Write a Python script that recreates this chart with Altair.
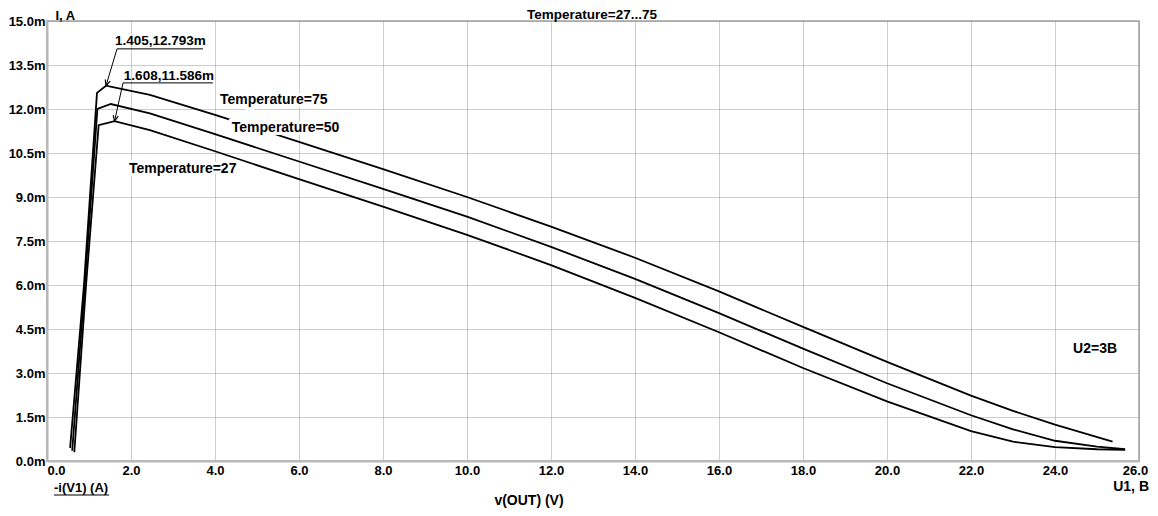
import altair as alt
import pandas as pd

# ---- series data (x in V, y in mA) ----
t75_x = [0.55, 0.88, 1.19, 1.405, 2.45, 4.0, 6.0, 8.0, 10.0, 12.0, 14.0, 16.0, 18.0, 20.0, 22.0, 23.0, 24.0, 25.37]
t75_y = [0.45, 6.0, 12.55, 12.793, 12.48, 11.80, 10.88, 9.95, 9.00, 7.99, 6.93, 5.78, 4.57, 3.38, 2.23, 1.71, 1.24, 0.66]

t50_x = [0.6, 0.9, 1.2, 1.52, 2.45, 4.0, 6.0, 8.0, 10.0, 12.0, 14.0, 16.0, 18.0, 20.0, 22.0, 23.0, 24.0, 25.0, 25.67]
t50_y = [0.35, 6.0, 12.0, 12.17, 11.85, 11.14, 10.21, 9.28, 8.33, 7.30, 6.21, 5.04, 3.83, 2.65, 1.56, 1.08, 0.69, 0.49, 0.40]

t27_x = [0.65, 0.93, 1.23, 1.608, 2.45, 4.0, 6.0, 8.0, 10.0, 12.0, 14.0, 16.0, 18.0, 20.0, 22.0, 23.0, 24.0, 25.0, 25.67]
t27_y = [0.3, 6.0, 11.45, 11.586, 11.28, 10.56, 9.61, 8.67, 7.71, 6.68, 5.56, 4.39, 3.17, 2.03, 1.02, 0.66, 0.47, 0.40, 0.38]

series_names = ["Temperature=75", "Temperature=50", "Temperature=27"]

# ---- curve labels ----
lbl_text = ["Temperature=75", "Temperature=50", "Temperature=27"]
lbl_x = [4.12, 4.40, 1.95]
lbl_y = [12.31, 11.34, 9.94]

# ---- point annotations ----
ann_text = ["1.405,12.793m", "1.608,11.586m"]
ann_tx = [1.62, 1.83]
ann_ty = [14.33, 13.14]
ann_ux0 = [1.667, 1.81]
ann_ux1 = [3.714, 3.95]
ann_uy = [14.05, 12.89]
ann_px = [1.405, 1.608]
ann_py = [12.793, 11.586]
ann_angle = [17.5, 12.2]

# ---- other texts ----
note_text = ["U2=3B"]
note_x = [24.43]
note_y = [3.82]

x_ticks = [0, 2, 4, 6, 8, 10, 12, 14, 16, 18, 20, 22, 24, 26]
y_ticks = [0, 1.5, 3, 4.5, 6, 7.5, 9, 10.5, 12, 13.5, 15]

rows = []
for name, xs_, ys_ in zip(series_names, [t75_x, t50_x, t27_x], [t75_y, t50_y, t27_y]):
    for i, (a, b) in enumerate(zip(xs_, ys_)):
        rows.append({"series": name, "order": i, "x": a, "y": b})
df = pd.DataFrame(rows)

lbl_df = pd.DataFrame({"text": lbl_text, "x": lbl_x, "y": lbl_y})
ann_df = pd.DataFrame({"text": ann_text, "tx": ann_tx, "ty": ann_ty, "ux0": ann_ux0,
                       "ux1": ann_ux1, "uy": ann_uy, "px": ann_px, "py": ann_py,
                       "angle": ann_angle})
note_df = pd.DataFrame({"text": note_text, "x": note_x, "y": note_y})

W, H = 1092, 440
FONT = "Liberation Sans"
FS = 14

xs = alt.Scale(domain=[0, 26], nice=False, zero=False)
ys = alt.Scale(domain=[0, 15], nice=False)

x_axis = alt.Axis(values=x_ticks, title=None, ticks=False, labelPadding=3,
                  labelExpr="format(datum.value, '.1f')",
                  labelAlign=alt.expr("datum.value == 0 ? 'left' : 'center'"),
                  labelOffset=alt.expr("datum.value == 26 ? -4 : 0"),
                  grid=True)
y_axis = alt.Axis(values=y_ticks, title="I, A", ticks=False, labelPadding=2,
                  labelExpr="format(datum.value, '.1f') + 'm'", grid=True,
                  titleAngle=0, titleX=8, titleY=-6, titleAlign="left",
                  titleBaseline="middle")

base_lines = alt.Chart(df).mark_line(color="black", strokeWidth=1.8, strokeJoin="miter").encode(
    x=alt.X("x:Q", scale=xs, axis=x_axis),
    y=alt.Y("y:Q", scale=ys, axis=y_axis),
    detail="series:N",
    order="order:Q",
)

halo = alt.Chart(lbl_df).mark_text(align="left", baseline="middle", font=FONT, fontSize=FS,
                                   fontWeight="bold", stroke="white", strokeWidth=6,
                                   fill="white").encode(
    x=alt.X("x:Q", scale=xs), y=alt.Y("y:Q", scale=ys), text="text:N")
labels = alt.Chart(lbl_df).mark_text(align="left", baseline="middle", font=FONT, fontSize=FS,
                                     fontWeight="bold", color="black").encode(
    x=alt.X("x:Q", scale=xs), y=alt.Y("y:Q", scale=ys), text="text:N")

ann_txt = alt.Chart(ann_df).mark_text(align="left", baseline="middle", font=FONT, fontSize=13.5,
                                      fontWeight="bold", color="black").encode(
    x=alt.X("tx:Q", scale=xs), y=alt.Y("ty:Q", scale=ys), text="text:N")
ann_under = alt.Chart(ann_df).mark_rule(color="black", strokeWidth=1).encode(
    x=alt.X("ux0:Q", scale=xs), x2="ux1:Q", y=alt.Y("uy:Q", scale=ys))
ann_lead = alt.Chart(ann_df).mark_rule(color="black", strokeWidth=1).encode(
    x=alt.X("ux0:Q", scale=xs), x2="px:Q", y=alt.Y("uy:Q", scale=ys), y2="py:Q")
ann_head = alt.Chart(ann_df).mark_point(shape="M-0.45,-1L0,0L0.45,-1", filled=False,
                                        color="black", strokeWidth=1.2, size=130,
                                        opacity=1).encode(
    x=alt.X("px:Q", scale=xs), y=alt.Y("py:Q", scale=ys), angle=alt.Angle("angle:Q", scale=None))

note = alt.Chart(note_df).mark_text(align="left", baseline="middle", font=FONT, fontSize=FS,
                                    fontWeight="bold", color="black").encode(
    x=alt.X("x:Q", scale=xs), y=alt.Y("y:Q", scale=ys), text="text:N")

def fixed_text(txt, px, py, align="left", fs=FS, baseline="middle"):
    return alt.Chart(pd.DataFrame({"t": [txt]})).mark_text(
        align=align, baseline=baseline, font=FONT, fontSize=fs, fontWeight="bold",
        color="black").encode(x=alt.value(px), y=alt.value(py), text="t:N")

top_title = fixed_text("Temperature=27...75", 545, -2, "center", 13.5, "alphabetic")
x_title = fixed_text("v(OUT) (V)", 482, 480, "center")
y_name = fixed_text("-i(V1) (A)", 7, 467, "left", 13)
y_name_ul = alt.Chart(pd.DataFrame({"t": [0]})).mark_rule(color="black", strokeWidth=1.2).encode(
    x=alt.value(7), x2=alt.value(62), y=alt.value(474))
x_unit = fixed_text("U1, B", 1102, 466, "right")

chart = alt.layer(
    base_lines, halo, labels, ann_txt, ann_under, ann_lead, ann_head, note,
    top_title, x_title, y_name, y_name_ul, x_unit,
).properties(
    width=W, height=H,
    autosize=alt.AutoSizeParams(type="none"),
    padding={"left": 39, "top": 13, "right": 11, "bottom": 47},
    background="white",
).configure_axis(
    labelFont=FONT, labelFontSize=13, labelFontWeight="bold", labelColor="black",
    titleFont=FONT, titleFontSize=13, titleFontWeight="bold", titleColor="black",
    domainColor="#b8b8b8", domainWidth=2,
    gridColor="#9a9a9a", gridDash=[1, 1], gridWidth=1,
).configure_view(
    stroke="#b8b8b8", strokeWidth=2,
)

chart.save("out.html", embed_options={"renderer": "svg", "actions": False})
